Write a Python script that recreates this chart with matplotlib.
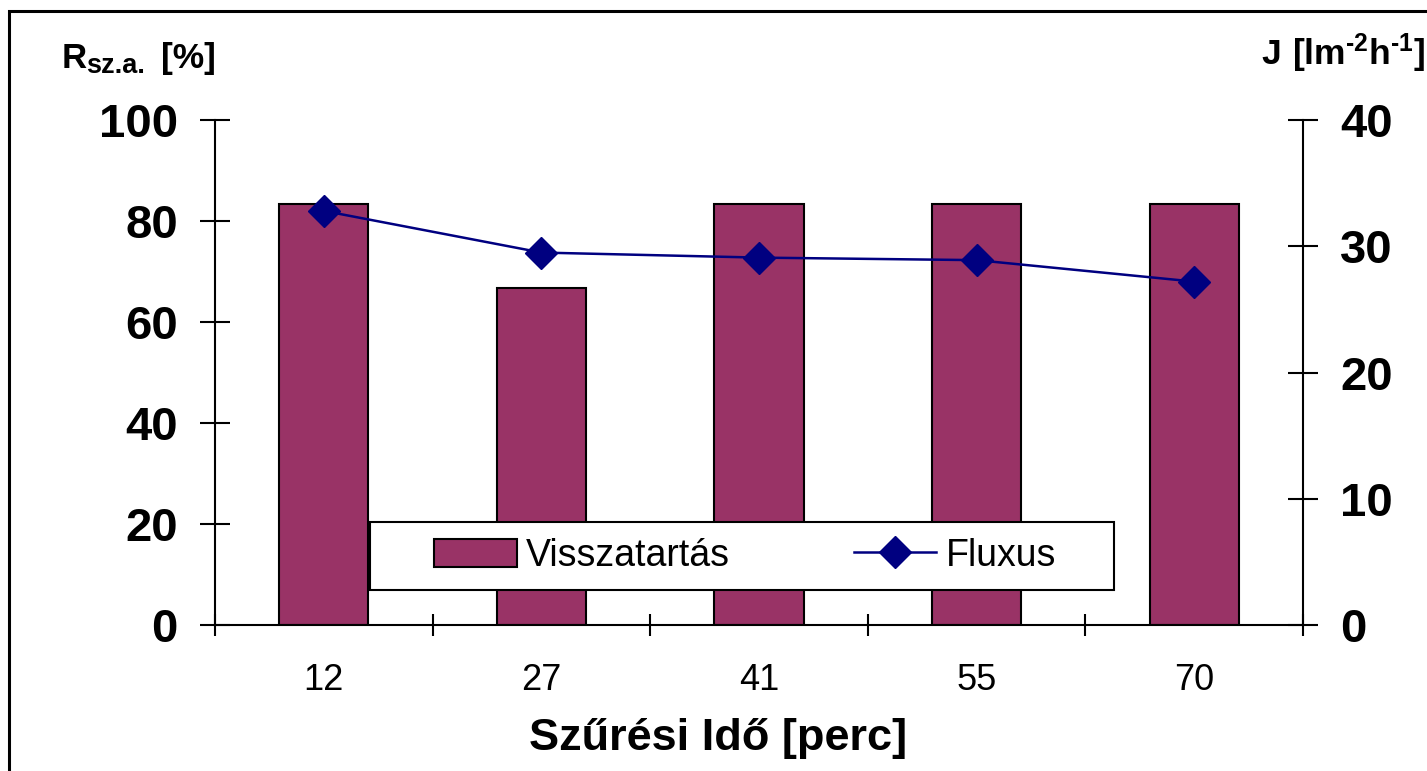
import matplotlib
matplotlib.use("Agg")
import matplotlib.pyplot as plt
from matplotlib.patches import Rectangle

# data
times = ["12", "27", "41", "55", "70"]
retention = [83.33, 66.67, 83.33, 83.33, 83.33]   # Visszatartás [%]
flux = [32.8, 29.5, 29.1, 28.9, 27.2]             # Fluxus [l m-2 h-1]

plt.rcParams['font.family'] = ['Liberation Sans', 'DejaVu Sans']
plt.rcParams['mathtext.fontset'] = 'custom'
plt.rcParams['mathtext.rm'] = 'Liberation Sans'
plt.rcParams['mathtext.bf'] = 'Liberation Sans:bold'

W, H = 1427, 771
fig = plt.figure(figsize=(W / 100, H / 100), dpi=100)
ax = fig.add_axes([215 / W, 1 - 625 / H, (1303 - 215) / W, (625 - 120) / H])
ax2 = ax.twinx()

x = list(range(len(times)))
bars = ax.bar(x, retention, width=0.41, color='#993366', edgecolor='black',
              linewidth=1.5, label='Visszatartás')
line, = ax2.plot(x, flux, color='#000080', lw=1.8, marker='D', ms=16,
                 label='Fluxus')

ax.set_xlim(-0.5, len(times) - 0.5)
ax.set_ylim(0, 100)
ax2.set_ylim(0, 40)
ax.set_yticks(range(0, 101, 20))
ax2.set_yticks(range(0, 41, 10))

# category boundaries as major ticks, labels on minor ticks at centres
ax.set_xticks([i - 0.5 for i in range(len(times) + 1)])
ax.set_xticklabels([])
ax.set_xticks(x, minor=True)
ax.set_xticklabels(times, minor=True, fontsize=26)
ax.tick_params(axis='x', which='major', direction='inout', length=16, width=1.5)
ax.tick_params(axis='x', which='minor', length=0, pad=27)

ax.tick_params(axis='y', direction='inout', length=21.6, width=1.5,
               labelsize=34, pad=16)
ax2.tick_params(axis='y', direction='inout', length=21.6, width=1.5,
                labelsize=34, pad=16)
plt.setp(ax.get_yticklabels(), fontweight='bold')
plt.setp(ax2.get_yticklabels(), fontweight='bold')

for a in (ax, ax2):
    a.spines['top'].set_visible(False)
    for s in a.spines.values():
        s.set_linewidth(1.5)
ax.spines['right'].set_visible(False)
ax2.spines['left'].set_visible(False)
ax2.spines['bottom'].set_visible(False)

# axis titles
fig.text(718 / W, 1 - 750 / H, 'Szűrési Idő [perc]', ha='center',
         va='baseline', fontsize=32.5, fontweight='bold')
fig.text(62 / W, 1 - 68 / H, 'R', ha='left', va='baseline', fontsize=25,
         fontweight='bold')
fig.text(86 / W, 1 - 73 / H, 'sz.a.', ha='left', va='baseline', fontsize=19.5,
         fontweight='bold')
fig.text(161 / W, 1 - 68 / H, '[%]', ha='left', va='baseline', fontsize=25.5,
         fontweight='bold')
fig.text(1425 / W, 1 - 65 / H, '$\\mathbf{J\\ [lm^{\u20102}h^{\u20101}]}$',
         ha='right', va='baseline', fontsize=25.5)

# legend box and legend
fig.patches.append(Rectangle((370 / W, 1 - 590 / H), (1114 - 370) / W, 68 / H,
                             transform=fig.transFigure, facecolor='white',
                             edgecolor='black', linewidth=1.5, zorder=2))
leg = fig.legend([bars, line], ['Visszatartás', 'Fluxus'], ncol=2,
                 loc='center', bbox_to_anchor=(745 / W, 1 - 556 / H),
                 frameon=False, fontsize=27, handlelength=2.2,
                 handleheight=0.8, handletextpad=0.25, columnspacing=3.3)
leg.set_zorder(3)

# outer chart frame (runs off the right and bottom edges)
fig.patches.append(Rectangle((9 / W, -0.1), 1.2, 1 - 11 / H + 0.1,
                             transform=fig.transFigure, fill=False,
                             edgecolor='black', linewidth=2.2, zorder=1))

fig.savefig('out.png', dpi=100)
plt.close(fig)
